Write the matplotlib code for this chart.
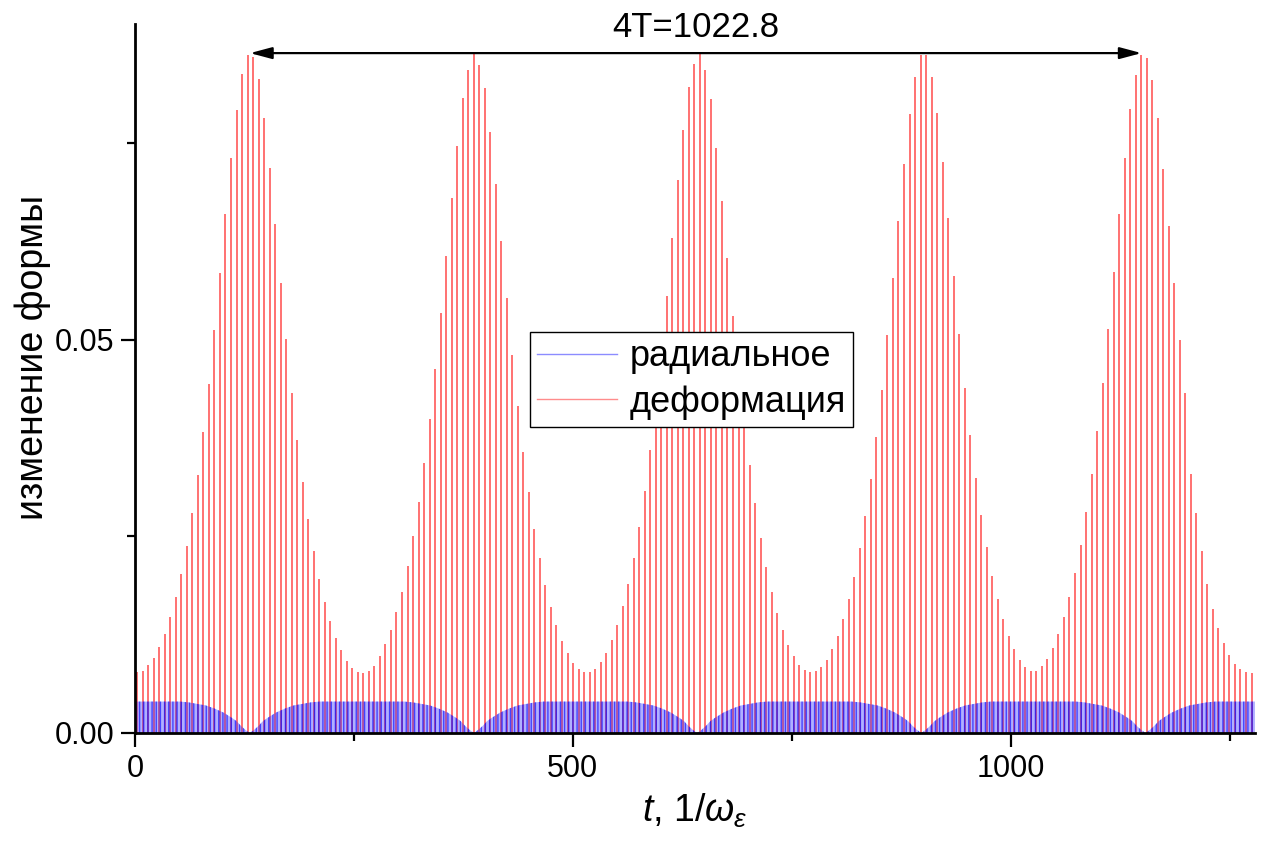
import numpy as np
import matplotlib
matplotlib.use("Agg")
import matplotlib.pyplot as plt
from matplotlib.lines import Line2D
from matplotlib.ticker import MultipleLocator, FormatStrFormatter

plt.rcParams['font.family'] = ['Liberation Sans', 'DejaVu Sans']
plt.rcParams['mathtext.fontset'] = 'custom'
plt.rcParams['mathtext.rm'] = 'Liberation Sans'
plt.rcParams['mathtext.it'] = 'Liberation Sans:italic'
plt.rcParams['hatch.linewidth'] = 1.0

# ---------------- data ----------------
# red spikes: "деформация" – peak height of each oscillation spike
spike_t0 = 2.5        # time of first spike
spike_step = 6.30     # spacing between spikes
red_peaks = [
    0.0078, 0.0079, 0.0086, 0.0095, 0.0109, 0.0126, 0.0147, 0.0173, 0.0202, 0.0238,
    0.0280, 0.0328, 0.0383, 0.0444, 0.0513, 0.0585, 0.0660, 0.0731, 0.0793, 0.0838,
    0.0862, 0.0860, 0.0832, 0.0783, 0.0719, 0.0647, 0.0573, 0.0501, 0.0433, 0.0373,
    0.0319, 0.0272, 0.0231, 0.0196, 0.0167, 0.0142, 0.0121, 0.0105, 0.0091, 0.0083,
    0.0078,
    0.0076, 0.0079, 0.0085, 0.0098, 0.0113, 0.0131, 0.0154, 0.0180, 0.0212, 0.0250,
    0.0294, 0.0343, 0.0400, 0.0463, 0.0534, 0.0607, 0.0681, 0.0747, 0.0808, 0.0843,
    0.0866, 0.0850, 0.0820, 0.0764, 0.0699, 0.0626, 0.0553, 0.0481, 0.0416, 0.0357,
    0.0306, 0.0260, 0.0222, 0.0188, 0.0160, 0.0137, 0.0117, 0.0102, 0.0089, 0.0082,
    0.0077,
    0.0078, 0.0082, 0.0090, 0.0102, 0.0118, 0.0138, 0.0161, 0.0189, 0.0223, 0.0262,
    0.0308, 0.0360, 0.0419, 0.0484, 0.0556, 0.0630, 0.0703, 0.0767, 0.0822, 0.0851,
    0.0865, 0.0843, 0.0806, 0.0744, 0.0677, 0.0604, 0.0531, 0.0460, 0.0397, 0.0341,
    0.0292, 0.0248, 0.0211, 0.0179, 0.0153, 0.0131, 0.0112, 0.0098, 0.0087, 0.0080,
    0.0077,
    0.0079, 0.0084, 0.0093, 0.0107, 0.0124, 0.0145, 0.0170, 0.0199, 0.0235, 0.0276,
    0.0323, 0.0377, 0.0437, 0.0506, 0.0579, 0.0652, 0.0724, 0.0787, 0.0834, 0.0862,
    0.0862, 0.0835, 0.0789, 0.0726, 0.0655, 0.0581, 0.0508, 0.0439, 0.0379, 0.0325,
    0.0277, 0.0236, 0.0200, 0.0171, 0.0145, 0.0124, 0.0107, 0.0093, 0.0084, 0.0079,
    0.0079, 0.0085, 0.0094, 0.0108, 0.0126, 0.0147, 0.0173, 0.0203, 0.0239, 0.0281,
    0.0329, 0.0384, 0.0445, 0.0514, 0.0587, 0.0660, 0.0731, 0.0794, 0.0837, 0.0863,
    0.0859, 0.0831, 0.0782, 0.0718, 0.0645, 0.0572, 0.0500, 0.0432, 0.0330, 0.0280,
    0.0232, 0.0190, 0.0158, 0.0133, 0.0114, 0.0099, 0.0088, 0.0081, 0.0077, 0.0076,
]

# blue: "радиальное" – envelope of the fast, small oscillation
blue_t = [0, 51, 61, 71, 81, 91, 101, 111, 116, 121, 126, 131, 136, 141, 146, 151, 161, 171, 181, 191, 201, 211,
          307, 317, 327, 337, 347, 357, 367, 372, 377, 382, 387, 392, 397, 402, 407, 417, 427, 437, 447, 457, 467,
          562, 572, 582, 592, 602, 612, 622, 627, 632, 637, 642, 647, 652, 657, 662, 672, 682, 692, 702, 712, 722,
          818, 828, 838, 848, 858, 868, 878, 883, 888, 893, 898, 903, 908, 913, 918, 928, 938, 948, 958, 968, 978,
          1074, 1084, 1094, 1104, 1114, 1124, 1134, 1139, 1144, 1149, 1154, 1159, 1164, 1169, 1174, 1184, 1194,
          1204, 1214, 1224, 1234, 1279]
blue_env = [0.0040,
            0.0040, 0.0039, 0.0037, 0.0035, 0.0031, 0.0026, 0.0019, 0.0015, 0.0009, 0.0004, 0.0000,
            0.0004, 0.0009, 0.0015, 0.0019, 0.0026, 0.0031, 0.0035, 0.0037, 0.0039, 0.0040,
            0.0040, 0.0039, 0.0037, 0.0035, 0.0031, 0.0026, 0.0019, 0.0015, 0.0009, 0.0004, 0.0000,
            0.0004, 0.0009, 0.0015, 0.0019, 0.0026, 0.0031, 0.0035, 0.0037, 0.0039, 0.0040,
            0.0040, 0.0039, 0.0037, 0.0035, 0.0031, 0.0026, 0.0019, 0.0015, 0.0009, 0.0004, 0.0000,
            0.0004, 0.0009, 0.0015, 0.0019, 0.0026, 0.0031, 0.0035, 0.0037, 0.0039, 0.0040,
            0.0040, 0.0039, 0.0037, 0.0035, 0.0031, 0.0026, 0.0019, 0.0015, 0.0009, 0.0004, 0.0000,
            0.0004, 0.0009, 0.0015, 0.0019, 0.0026, 0.0031, 0.0035, 0.0037, 0.0039, 0.0040,
            0.0040, 0.0039, 0.0037, 0.0035, 0.0031, 0.0026, 0.0019, 0.0015, 0.0009, 0.0004, 0.0000,
            0.0004, 0.0009, 0.0015, 0.0019, 0.0026, 0.0031, 0.0035, 0.0037, 0.0039, 0.0040,
            0.0040]

series_labels = ["радиальное", "деформация"]
x_ticks = [0, 500, 1000]
y_ticks = [0.00, 0.05]
arrow_start, arrow_end, arrow_y = 131.3, 1149.5, 0.0865
period_text = "4T=1022.8"
xlabel = r"$t$, 1/$\omega_{\varepsilon}$"
ylabel = "изменение формы"

# ---------------- figure ----------------
fig = plt.figure(figsize=(12.68, 8.43), dpi=100)
ax = fig.add_axes([0.1065, 0.1305, 0.8832, 0.841])

spike_t = spike_t0 + spike_step * np.arange(len(red_peaks))

red_col = (1.0, 0.0, 0.0, 0.58)
blue_fill = (0.15, 0.15, 1.0, 0.36)
blue_line = (0.0, 0.0, 1.0, 0.62)

ax.vlines(spike_t, 0, red_peaks, colors=[red_col], linewidth=1.35, zorder=2)
ax.fill_between(blue_t, 0, blue_env, facecolor=blue_fill, edgecolor=blue_line,
                hatch='||||', linewidth=0, zorder=3)

handles = [Line2D([], [], color=(0.55, 0.55, 1.0), lw=1.0),
           Line2D([], [], color=(1.0, 0.55, 0.55), lw=1.0)]
leg = ax.legend(handles, series_labels, loc='upper left', bbox_to_anchor=(0.3527, 0.5656),
                borderaxespad=0, fontsize=26, frameon=True, fancybox=False,
                edgecolor='black', framealpha=1, handlelength=2.2, handletextpad=0.35,
                borderpad=0.2, labelspacing=0.3)
leg.get_frame().set_linewidth(1.0)

ax.annotate('', xy=(arrow_end, arrow_y), xytext=(arrow_start, arrow_y),
            arrowprops=dict(arrowstyle='<|-|>,head_length=0.6,head_width=0.16',
                            color='black', lw=1.6, mutation_scale=22,
                            shrinkA=0, shrinkB=0), zorder=5)
ax.text((arrow_start + arrow_end) / 2, 0.0898, period_text, ha='center', va='center',
        fontsize=25, clip_on=False)

ax.set_xlim(0, 1279)
ax.set_ylim(0, 0.0902)
ax.set_xticks(x_ticks)
ax.set_yticks(y_ticks)
ax.xaxis.set_minor_locator(MultipleLocator(250))
ax.yaxis.set_minor_locator(MultipleLocator(0.025))
ax.yaxis.set_major_formatter(FormatStrFormatter('%.2f'))

for s in ['top', 'right']:
    ax.spines[s].set_visible(False)
for s in ['left', 'bottom']:
    ax.spines[s].set_linewidth(2.0)
    ax.spines[s].set_zorder(6)

ax.tick_params(which='major', direction='out', length=10, width=1.6, labelsize=22, pad=5)
ax.tick_params(which='minor', direction='out', length=6, width=1.6)

ax.set_xlabel(xlabel, fontsize=27, labelpad=6)
ax.set_ylabel(ylabel, fontsize=27)
ax.yaxis.set_label_coords(-0.075, 0.53)

fig.savefig('out.png', dpi=100)
